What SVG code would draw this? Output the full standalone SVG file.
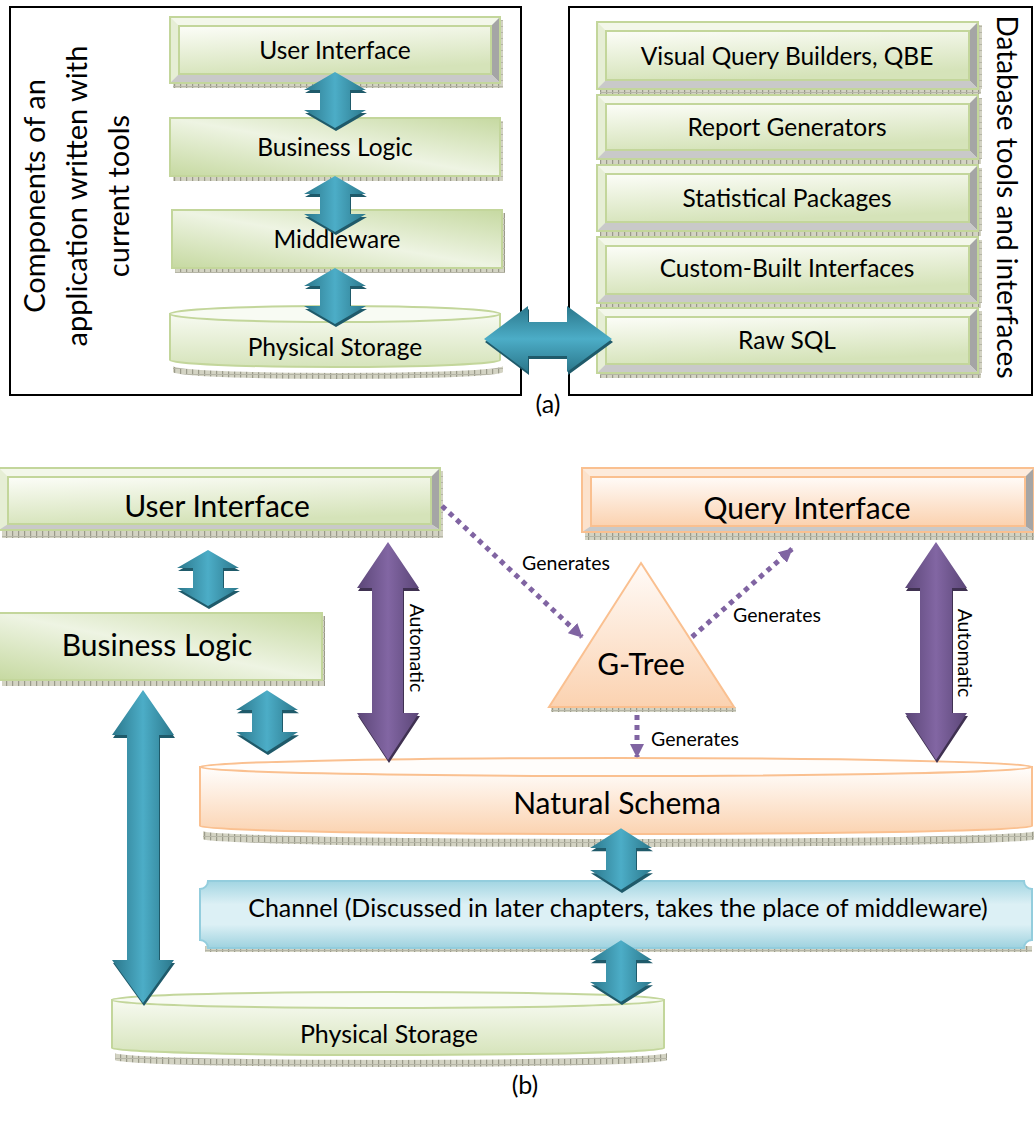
<svg xmlns="http://www.w3.org/2000/svg" xmlns:xlink="http://www.w3.org/1999/xlink" width="1034" height="1128" viewBox="0 0 1034 1128">
<defs>
<style>
.t{font-family:Lato,"Liberation Sans",sans-serif;fill:#000;text-anchor:middle}
.sa{font-size:24.5px}
.sb{font-size:30px}
.sc{font-size:25px}
.sm{font-size:19.5px}
.sv{font-size:29px}
.sr{font-size:28px}
.sp{font-size:25px}
.frame{fill:#fff;stroke:#000;stroke-width:2}
.ge{stroke:#c3d69b;stroke-width:2}
.oe{stroke:#fac090;stroke-width:2}
.gtop{fill:#f3f7ea}
.gleft{fill:#e6eed5}
.otop{fill:#fdebdc}
.oleft{fill:#fce2cc}
.bright{fill:#a5a5a5}
.bbot{fill:#c9c9c9}
.tex{fill:url(#tex)}
.dot{fill:none;stroke:#8064a2;stroke-width:5;stroke-dasharray:5 5}
</style>
<pattern id="tex" width="6" height="6" patternUnits="userSpaceOnUse">
<rect width="6" height="6" fill="#d3d3c3"/>
<rect width="1.2" height="6" fill="#9a9a8a"/>
<rect y="2" width="6" height="1" fill="#b5b5a6"/>
</pattern>
<linearGradient id="gFace" x1="0" y1="0" x2="0.3" y2="1">
<stop offset="0" stop-color="#fcfdf8"/><stop offset="1" stop-color="#d5e3b9"/>
</linearGradient>
<linearGradient id="gPlain" x1="0" y1="1" x2="1" y2="0">
<stop offset="0" stop-color="#c6d9a1"/><stop offset="0.5" stop-color="#eef4e3"/><stop offset="1" stop-color="#c6d9a1"/>
</linearGradient>
<linearGradient id="gCylG" x1="0" y1="0" x2="0" y2="1">
<stop offset="0" stop-color="#f7faf1"/><stop offset="1" stop-color="#d6e4bb"/>
</linearGradient>
<linearGradient id="gOFace" x1="0" y1="0" x2="0" y2="1">
<stop offset="0" stop-color="#fffbf8"/><stop offset="1" stop-color="#fbd2b0"/>
</linearGradient>
<linearGradient id="gCylO" x1="0" y1="0" x2="0" y2="1">
<stop offset="0" stop-color="#fffefd"/><stop offset="1" stop-color="#fbd3b1"/>
</linearGradient>
<linearGradient id="gChan" x1="0" y1="0" x2="0" y2="1">
<stop offset="0" stop-color="#a2d5e2"/><stop offset="0.35" stop-color="#dcf0f5"/><stop offset="0.65" stop-color="#dcf0f5"/><stop offset="1" stop-color="#9ed2df"/>
</linearGradient>
<linearGradient id="gBlue" x1="0" y1="0" x2="1" y2="0">
<stop offset="0" stop-color="#2b778b"/><stop offset="0.5" stop-color="#4cadc7"/><stop offset="1" stop-color="#2b778b"/>
</linearGradient>
<linearGradient id="gBlueV" x1="0" y1="0" x2="0" y2="1">
<stop offset="0" stop-color="#2b778b"/><stop offset="0.5" stop-color="#4cadc7"/><stop offset="1" stop-color="#2b778b"/>
</linearGradient>
<linearGradient id="gPurp" x1="0" y1="0" x2="1" y2="0">
<stop offset="0" stop-color="#5b4677"/><stop offset="0.5" stop-color="#8266a3"/><stop offset="1" stop-color="#5b4677"/>
</linearGradient>
<path id="dbl" d="M0,-28 L31,-10 L15,-10 L15,10 L31,10 L0,28 L-31,10 L-15,10 L-15,-10 L-31,-10 Z"/>
<g id="blueArrow">
<use xlink:href="#dbl" href="#dbl" transform="translate(1,3)" fill="#1f5a6a"/>
<use xlink:href="#dbl" href="#dbl" fill="url(#gBlue)"/>
</g>
<marker id="mh" viewBox="0 0 14 14" refX="13" refY="7" markerWidth="14" markerHeight="14" markerUnits="userSpaceOnUse" orient="auto">
<path d="M0,0 L14,7 L0,14 Z" fill="#8064a2"/>
</marker>
</defs>

<rect width="1034" height="1128" fill="#fff"/>

<!-- (a) frames -->
<g id="frame-left"><rect class="frame" x="10" y="7" width="511" height="388"/>
<text class="t sv" transform="translate(45,196) rotate(-90)">Components of an</text>
<text class="t sv" transform="translate(87,196) rotate(-90)">application written with</text>
<text class="t sv" transform="translate(129,196) rotate(-90)">current tools</text>
</g>
<g id="frame-right"><rect class="frame" x="569" y="7" width="463" height="388"/>
<text class="t sr" transform="translate(997,197) rotate(90)">Database tools and interfaces</text>
</g>
<text class="t sp" x="548" y="413">(a)</text>

<!-- (a) left nodes -->
<g id="a-ui">
<rect class="tex" x="173" y="83" width="330" height="5"/><rect class="tex" x="500" y="20" width="3" height="63"/>
<rect x="170" y="17" width="330" height="66" fill="#eef3e2"/>
<polygon class="gtop" points="170,17 500,17 491,26 179,26"/>
<polygon class="gleft" points="170,17 179,26 179,74 170,83"/>
<polygon class="bright" points="500,17 500,83 491,74 491,26"/>
<polygon class="bbot" points="170,83 500,83 491,74 179,74"/>
<rect x="179" y="26" width="312" height="48" fill="url(#gFace)" class="ge" stroke-width="1.5"/>
<rect x="170" y="17" width="330" height="66" fill="none" class="ge"/>
<text class="t sa" x="335" y="59">User Interface</text>
</g>
<g id="a-bl">
<rect class="tex" x="173" y="176" width="330" height="5"/><rect class="tex" x="500" y="121" width="3" height="55"/>
<rect x="170" y="118" width="330" height="58" fill="url(#gPlain)" class="ge"/>
<text class="t sa" x="335" y="156">Business Logic</text>
</g>
<g id="a-mw">
<rect class="tex" x="175" y="268" width="330" height="5"/><rect class="tex" x="502" y="213" width="3" height="55"/>
<rect x="172" y="210" width="330" height="58" fill="url(#gPlain)" class="ge"/>
<text class="t sa" x="337" y="248">Middleware</text>
</g>
<g id="a-ps">
<path class="tex" d="M173,366 A165,7 0 0 0 503,366 L503,372 A165,7 0 0 1 173,372 Z"/>
<path d="M170,314 L170,360 A165,7 0 0 0 500,360 L500,314 Z" fill="url(#gCylG)" class="ge"/>
<ellipse cx="335" cy="314" rx="165" ry="8" fill="#f8fbf3" class="ge"/>
<text class="t sa" x="335" y="356">Physical Storage</text>
</g>

<!-- (a) right nodes -->
<g id="a-vqb">
<rect class="tex" x="600" y="89" width="381" height="5"/><rect class="tex" x="978" y="25" width="4" height="64"/>
<rect x="597" y="22" width="381" height="67" fill="#eef3e2"/>
<polygon class="gtop" points="597,22 978,22 969,31 606,31"/>
<polygon class="gleft" points="597,22 606,31 606,80 597,89"/>
<polygon class="bright" points="978,22 978,89 969,80 969,31"/>
<polygon class="bbot" points="597,89 978,89 969,80 606,80"/>
<rect x="606" y="31" width="363" height="49" fill="url(#gFace)" class="ge" stroke-width="1.5"/>
<rect x="597" y="22" width="381" height="67" fill="none" class="ge"/>
<text class="t sa" x="787" y="65">Visual Query Builders, QBE</text>
</g>
<g id="a-rg">
<rect class="tex" x="600" y="159" width="381" height="5"/><rect class="tex" x="978" y="98" width="4" height="61"/>
<rect x="597" y="95" width="381" height="64" fill="#eef3e2"/>
<polygon class="gtop" points="597,95 978,95 969,104 606,104"/>
<polygon class="gleft" points="597,95 606,104 606,150 597,159"/>
<polygon class="bright" points="978,95 978,159 969,150 969,104"/>
<polygon class="bbot" points="597,159 978,159 969,150 606,150"/>
<rect x="606" y="104" width="363" height="46" fill="url(#gFace)" class="ge" stroke-width="1.5"/>
<rect x="597" y="95" width="381" height="64" fill="none" class="ge"/>
<text class="t sa" x="787" y="136">Report Generators</text>
</g>
<g id="a-sp">
<rect class="tex" x="600" y="231" width="381" height="5"/><rect class="tex" x="978" y="168" width="4" height="63"/>
<rect x="597" y="165" width="381" height="66" fill="#eef3e2"/>
<polygon class="gtop" points="597,165 978,165 969,174 606,174"/>
<polygon class="gleft" points="597,165 606,174 606,222 597,231"/>
<polygon class="bright" points="978,165 978,231 969,222 969,174"/>
<polygon class="bbot" points="597,231 978,231 969,222 606,222"/>
<rect x="606" y="174" width="363" height="48" fill="url(#gFace)" class="ge" stroke-width="1.5"/>
<rect x="597" y="165" width="381" height="66" fill="none" class="ge"/>
<text class="t sa" x="787" y="207">Statistical Packages</text>
</g>
<g id="a-cbi">
<rect class="tex" x="600" y="303" width="381" height="5"/><rect class="tex" x="978" y="240" width="4" height="63"/>
<rect x="597" y="237" width="381" height="66" fill="#eef3e2"/>
<polygon class="gtop" points="597,237 978,237 969,246 606,246"/>
<polygon class="gleft" points="597,237 606,246 606,294 597,303"/>
<polygon class="bright" points="978,237 978,303 969,294 969,246"/>
<polygon class="bbot" points="597,303 978,303 969,294 606,294"/>
<rect x="606" y="246" width="363" height="48" fill="url(#gFace)" class="ge" stroke-width="1.5"/>
<rect x="597" y="237" width="381" height="66" fill="none" class="ge"/>
<text class="t sa" x="787" y="277">Custom-Built Interfaces</text>
</g>
<g id="a-sql">
<rect class="tex" x="600" y="373" width="381" height="5"/><rect class="tex" x="978" y="311" width="4" height="62"/>
<rect x="597" y="308" width="381" height="65" fill="#eef3e2"/>
<polygon class="gtop" points="597,308 978,308 969,317 606,317"/>
<polygon class="gleft" points="597,308 606,317 606,364 597,373"/>
<polygon class="bright" points="978,308 978,373 969,364 969,317"/>
<polygon class="bbot" points="597,373 978,373 969,364 606,364"/>
<rect x="606" y="317" width="363" height="47" fill="url(#gFace)" class="ge" stroke-width="1.5"/>
<rect x="597" y="308" width="381" height="65" fill="none" class="ge"/>
<text class="t sa" x="787" y="349">Raw SQL</text>
</g>

<!-- (b) nodes -->
<g id="b-ui">
<rect class="tex" x="2" y="530" width="441" height="8"/><rect class="tex" x="440" y="471" width="3" height="59"/>
<rect x="-1" y="468" width="441" height="62" fill="#eef3e2"/>
<polygon class="gtop" points="-1,468 440,468 431,477 8,477"/>
<polygon class="gleft" points="-1,468 8,477 8,524 -1,530"/>
<polygon class="bright" points="440,468 440,530 431,524 431,477"/>
<polygon class="bbot" points="-1,530 440,530 431,524 8,524"/>
<rect x="8" y="477" width="423" height="47" fill="url(#gFace)" class="ge" stroke-width="1.5"/>
<rect x="-1" y="468" width="441" height="62" fill="none" class="ge"/>
<text class="t sb" x="217" y="517">User Interface</text>
</g>
<g id="b-bl">
<rect class="tex" x="2" y="680" width="323" height="6"/><rect class="tex" x="322" y="616" width="3" height="64"/>
<rect x="-1" y="613" width="323" height="67" fill="url(#gPlain)" class="ge"/>
<text class="t sb" x="157" y="656">Business Logic</text>
</g>
<g id="b-qi">
<rect class="tex" x="585" y="532" width="452" height="8"/>
<rect x="582" y="468" width="452" height="64" fill="#fdf0e6"/>
<polygon class="otop" points="582,468 1034,468 1025,477 591,477"/>
<polygon class="oleft" points="582,468 591,477 591,526 582,532"/>
<polygon class="bright" points="1034,468 1034,532 1025,526 1025,477"/>
<polygon class="bbot" points="582,532 1034,532 1025,526 591,526"/>
<rect x="591" y="477" width="434" height="49" fill="url(#gOFace)" class="oe" stroke-width="1.5"/>
<rect x="582" y="468" width="452" height="64" fill="none" class="oe"/>
<text class="t sb" x="807" y="519">Query Interface</text>
</g>
<g id="b-gtree">
<rect class="tex" x="551" y="707" width="185" height="5"/>
<polygon points="641,563 734,707 549,707" fill="url(#gOFace)" class="oe"/>
<text class="t sb" x="641" y="675">G-Tree</text>
</g>
<g id="b-ns">
<path class="tex" d="M203,831 A416,8 0 0 0 1035,831 L1035,839 A416,8 0 0 1 203,839 Z"/>
<path d="M200,767 L200,826 A416,8 0 0 0 1032,826 L1032,767 Z" fill="url(#gCylO)" class="oe"/>
<ellipse cx="616" cy="767" rx="416" ry="9" fill="#fffdfb" class="oe"/>
<text class="t sb" x="617" y="814">Natural Schema</text>
</g>
<g id="b-ch">
<rect class="tex" x="205" y="946" width="827" height="6"/>
<path d="M208,881 H1024 A8,8 0 0 0 1032,889 V940 A8,8 0 0 0 1024,948 H208 A8,8 0 0 0 200,940 V889 A8,8 0 0 0 208,881 Z" fill="url(#gChan)" stroke="#93cddd" stroke-width="2"/>
<text class="t sc" x="618" y="917">Channel (Discussed in later chapters, takes the place of middleware)</text>
</g>
<g id="b-ps">
<path class="tex" d="M115,1053 A276,7 0 0 0 667,1053 L667,1060 A276,7 0 0 1 115,1060 Z"/>
<path d="M112,1000 L112,1048 A276,7 0 0 0 664,1048 L664,1000 Z" fill="url(#gCylG)" class="ge"/>
<ellipse cx="388" cy="1000" rx="276" ry="8" fill="#f8fbf3" class="ge"/>
<text class="t sc" x="389" y="1043">Physical Storage</text>
</g>
<text class="t sp" x="525" y="1094">(b)</text>

<!-- connectors -->
<g id="connectors">
<use xlink:href="#blueArrow" href="#blueArrow" transform="translate(335,100)"/>
<use xlink:href="#blueArrow" href="#blueArrow" transform="translate(335,204)"/>
<use xlink:href="#blueArrow" href="#blueArrow" transform="translate(335,296)"/>
<path d="M484,339 L528,306 L528,322 L567,322 L567,306 L612,339 L567,372 L567,356 L528,356 L528,372 Z" transform="translate(1,3)" fill="#1f5a6a"/>
<path d="M484,339 L528,306 L528,322 L567,322 L567,306 L612,339 L567,372 L567,356 L528,356 L528,372 Z" fill="url(#gBlueV)"/>

<use xlink:href="#blueArrow" href="#blueArrow" transform="translate(208,578)"/>
<use xlink:href="#blueArrow" href="#blueArrow" transform="translate(267,721) scale(1,1.1)"/>
<use xlink:href="#blueArrow" href="#blueArrow" transform="translate(621,859) scale(1,1.1)"/>
<use xlink:href="#blueArrow" href="#blueArrow" transform="translate(621,971) scale(1,1.1)"/>
<path d="M143,690 L174,735 L159,735 L159,960 L174,960 L143,1003 L112,960 L127,960 L127,735 L112,735 Z" transform="translate(1,3)" fill="#1f5a6a"/>
<path d="M143,690 L174,735 L159,735 L159,960 L174,960 L143,1003 L112,960 L127,960 L127,735 L112,735 Z" fill="url(#gBlue)"/>

<path d="M388,542 L419,588 L403,588 L403,713 L419,713 L388,760 L357,713 L372,713 L372,588 L357,588 Z" transform="translate(1,3)" fill="#3f3151"/>
<path d="M388,542 L419,588 L403,588 L403,713 L419,713 L388,760 L357,713 L372,713 L372,588 L357,588 Z" fill="url(#gPurp)"/>
<text class="t sm" transform="translate(410,648) rotate(90)">Automatic</text>
<path d="M936,542 L967,588 L952,588 L952,713 L967,713 L936,760 L905,713 L920,713 L920,588 L905,588 Z" transform="translate(1,3)" fill="#3f3151"/>
<path d="M936,542 L967,588 L952,588 L952,713 L967,713 L936,760 L905,713 L920,713 L920,588 L905,588 Z" fill="url(#gPurp)"/>
<text class="t sm" transform="translate(958,653) rotate(90)">Automatic</text>

<line class="dot" x1="442" y1="506" x2="582" y2="637" marker-end="url(#mh)"/>
<text class="t sm" x="566" y="570">Generates</text>
<line class="dot" x1="692" y1="637" x2="792" y2="549" marker-end="url(#mh)"/>
<text class="t sm" x="777" y="622">Generates</text>
<line class="dot" x1="637" y1="715" x2="637" y2="757" marker-end="url(#mh)"/>
<text class="t sm" x="695" y="746">Generates</text>
</g>
</svg>
